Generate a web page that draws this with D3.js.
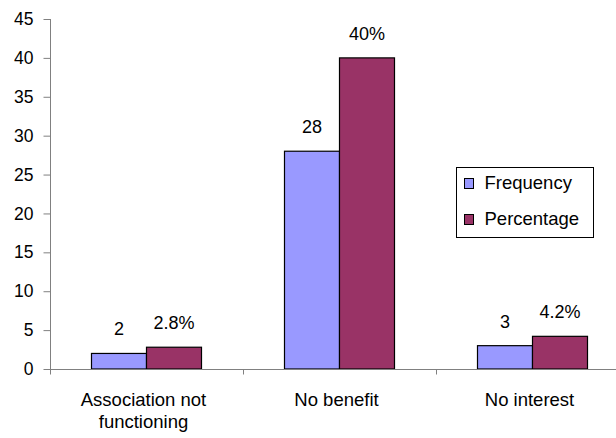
<!DOCTYPE html>
<html>
<head>
<meta charset="utf-8">
<script src="https://cdn.jsdelivr.net/npm/d3@7"></script>
<style>
  body { margin: 0; background: #fff; }
  text { font-family: "Liberation Sans", Arial, sans-serif; fill: #000; }
</style>
</head>
<body>
<svg width="616" height="438"></svg>

<script>

var categories = [["Association not", "functioning"], ["No benefit"], ["No interest"]],
    categoryKeys = ["Association not functioning", "No benefit", "No interest"],
    seriesNames = ["Frequency", "Percentage"],
    frequency = [2, 28, 3],
    percentage = [2.8, 40, 4.2],
    percentLabels = ["2.8%", "40%", "4.2%"],
    yTicks = [0, 5, 10, 15, 20, 25, 30, 35, 40, 45];

var colors = ["#9999ff", "#993366"];

var svg = d3.select("svg");

var x0 = d3.scaleBand()
    .domain(categoryKeys)
    .range([50, 629])
    .paddingInner(0.43)
    .paddingOuter(0.215);

var x1 = d3.scaleBand()
    .domain(seriesNames)
    .range([0, x0.bandwidth()]);

var y = d3.scaleLinear()
    .domain([0, 45])
    .range([369, 19]);

var rows = categoryKeys.map(function(k, i) {
  return {
    key: k,
    values: [
      {series: "Frequency", value: frequency[i], label: String(frequency[i])},
      {series: "Percentage", value: percentage[i], label: percentLabels[i]}
    ]
  };
});

// y axis
var yAxis = svg.append("g")
    .attr("transform", "translate(50.5,0)")
    .call(d3.axisLeft(y).tickValues(yTicks).tickSize(7).tickPadding(10));
yAxis.select(".domain").attr("stroke", "#808080").attr("d", "M0," + y(45) + "V" + y(0));
yAxis.selectAll(".tick line").attr("stroke", "#808080");
yAxis.selectAll(".tick text")
    .attr("font-size", 17.5)
    .attr("font-family", "'Liberation Sans', Arial, sans-serif");

// bars
var groups = svg.append("g").selectAll("g")
    .data(rows)
  .enter().append("g")
    .attr("transform", function(d) { return "translate(" + x0(d.key) + ",0)"; });

groups.selectAll("rect")
    .data(function(d) { return d.values; })
  .enter().append("rect")
    .attr("x", function(d) { return x1(d.series); })
    .attr("y", function(d) { return y(d.value); })
    .attr("width", x1.bandwidth())
    .attr("height", function(d) { return y(0) - y(d.value); })
    .attr("fill", function(d, i) { return colors[i]; })
    .attr("stroke", "#000")
    .attr("stroke-width", 1.2);

groups.selectAll("text")
    .data(function(d) { return d.values; })
  .enter().append("text")
    .attr("x", function(d) { return x1(d.series) + x1.bandwidth() / 2; })
    .attr("y", function(d) { return y(d.value) - 18; })
    .attr("text-anchor", "middle")
    .attr("font-size", 18)
    .text(function(d) { return d.label; });

// x axis
var xAxis = svg.append("g").attr("transform", "translate(0," + (y(0) + 0.5) + ")");
xAxis.append("line")
    .attr("x1", 50).attr("x2", 629)
    .attr("stroke", "#808080");
xAxis.selectAll(".xtick")
    .data(categoryKeys)
  .enter().append("line")
    .attr("x1", function(d) { return Math.round(x0(d) - x0.step() * 0.215) + 0.5; })
    .attr("x2", function(d) { return Math.round(x0(d) - x0.step() * 0.215) + 0.5; })
    .attr("y1", 0).attr("y2", 5)
    .attr("stroke", "#808080");

xAxis.selectAll(".xlabel")
    .data(categoryKeys)
  .enter().append("text")
    .attr("text-anchor", "middle")
    .attr("font-size", 18.5)
    .attr("x", function(d) { return x0(d) + x0.bandwidth() / 2 - 3; })
    .attr("y", 36)
    .each(function(d, i) {
      var t = d3.select(this);
      categories[i].forEach(function(line, j) {
        t.append("tspan")
            .attr("x", x0(d) + x0.bandwidth() / 2 - 3)
            .attr("dy", j ? 22 : 0)
            .text(line);
      });
    });

// legend
var legend = svg.append("g").attr("transform", "translate(456.5,167.5)");
legend.append("rect")
    .attr("width", 137).attr("height", 70)
    .attr("fill", "#fff").attr("stroke", "#000");
var items = legend.selectAll(".item")
    .data(seriesNames)
  .enter().append("g")
    .attr("transform", function(d, i) { return "translate(8," + (11 + i * 36) + ")"; });
items.append("rect")
    .attr("width", 9).attr("height", 10)
    .attr("fill", function(d, i) { return colors[i]; })
    .attr("stroke", "#000");
items.append("text")
    .attr("x", 20).attr("y", 10.5)
    .attr("font-size", 18.5)
    .text(function(d) { return d; });

</script>
</body>
</html>
